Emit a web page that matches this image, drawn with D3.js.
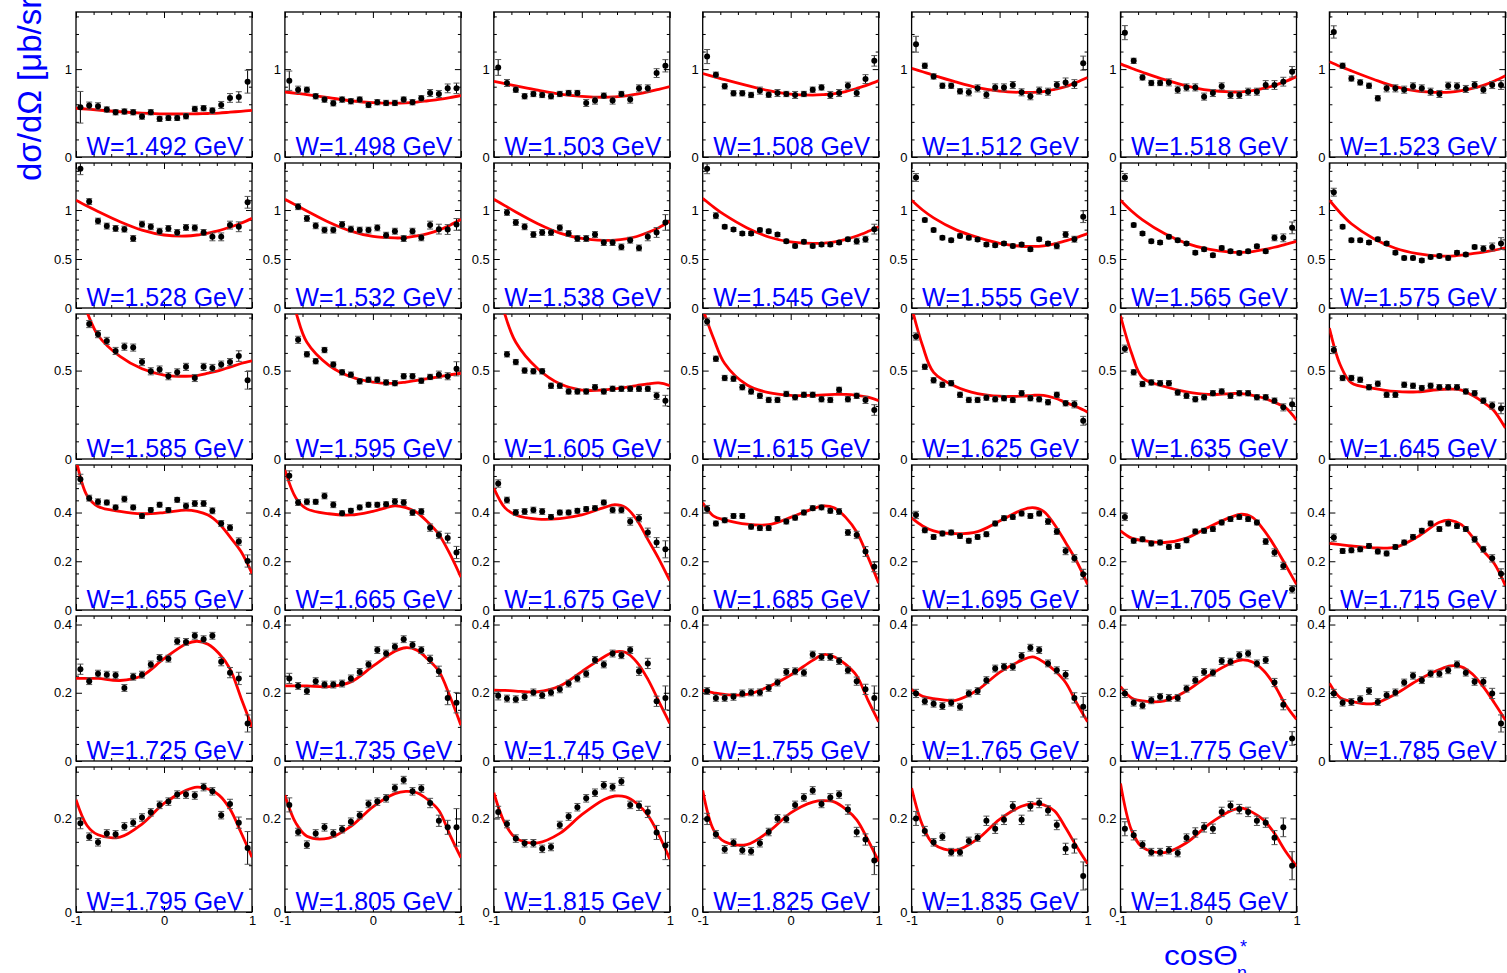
<!DOCTYPE html>
<html><head><meta charset="utf-8">
<script src="https://cdn.jsdelivr.net/npm/d3@7"></script>
<style>body{margin:0;background:#fff}</style>
</head><body>
<svg id="c" width="1507" height="973"></svg>
<script>
// ---------- DATA ----------
const energies = ["1.492","1.498","1.503","1.508","1.512","1.518","1.523",
 "1.528","1.532","1.538","1.545","1.555","1.565","1.575",
 "1.585","1.595","1.605","1.615","1.625","1.635","1.645",
 "1.655","1.665","1.675","1.685","1.695","1.705","1.715",
 "1.725","1.735","1.745","1.755","1.765","1.775","1.785",
 "1.795","1.805","1.815","1.825","1.835","1.845"];
const cosBins = [-0.95,-0.85,-0.75,-0.65,-0.55,-0.45,-0.35,-0.25,-0.15,-0.05,0.05,0.15,0.25,0.35,0.45,0.55,0.65,0.75,0.85,0.95];
const fitGrid = [-1,-0.875,-0.75,-0.5,-0.25,0,0.25,0.375,0.5,0.625,0.75,0.875,1];
const rowYMax = [1.65,1.48,0.82,0.595,0.425,0.31];
const rowYMajor = [[0,1],[0,0.5,1],[0,0.5],[0,0.2,0.4],[0,0.2,0.4],[0,0.2]];
const rowYMinorStep = [0.2,0.1,0.1,0.05,0.05,0.05];
const xTickLabels = [-1,0,1];

const crossSection = [
 [0.566,0.585,0.577,0.540,0.509,0.517,0.509,0.460,0.509,0.434,0.445,0.445,0.464,0.547,0.555,0.528,0.592,0.672,0.683,0.857],
 [0.868,0.766,0.766,0.691,0.653,0.611,0.653,0.634,0.653,0.592,0.623,0.615,0.615,0.653,0.623,0.668,0.728,0.717,0.781,0.781],
 [1.019,0.842,0.766,0.691,0.717,0.706,0.691,0.717,0.728,0.728,0.615,0.642,0.698,0.642,0.717,0.653,0.781,0.781,0.955,1.038],
 [1.143,0.936,0.804,0.725,0.725,0.706,0.755,0.709,0.728,0.717,0.706,0.717,0.766,0.792,0.706,0.728,0.811,0.728,0.887,1.094],
 [1.283,1.038,0.917,0.811,0.811,0.747,0.736,0.781,0.709,0.792,0.792,0.819,0.736,0.691,0.755,0.743,0.819,0.849,0.830,1.068],
 [1.415,1.094,0.906,0.842,0.842,0.849,0.766,0.792,0.792,0.687,0.728,0.804,0.706,0.706,0.743,0.743,0.819,0.819,0.857,0.970],
 [1.423,1.038,0.894,0.849,0.811,0.668,0.781,0.781,0.766,0.804,0.781,0.743,0.717,0.811,0.804,0.774,0.819,0.766,0.819,0.819],
 [1.421,1.086,0.887,0.836,0.812,0.805,0.709,0.856,0.829,0.784,0.812,0.771,0.822,0.818,0.771,0.726,0.726,0.846,0.829,1.079],
 [null,1.034,0.914,0.839,0.795,0.795,0.853,0.805,0.795,0.795,0.818,0.743,0.784,0.709,0.784,0.716,0.846,0.805,0.801,0.853],
 [null,0.976,0.873,0.829,0.750,0.771,0.771,0.818,0.760,0.709,0.709,0.750,0.668,0.668,0.623,0.692,0.613,0.726,0.771,0.873],
 [1.421,0.942,0.829,0.801,0.760,0.760,0.795,0.784,0.750,0.682,0.634,0.675,0.634,0.647,0.647,0.668,0.702,0.682,0.702,0.805],
 [1.332,0.897,0.795,0.716,0.692,0.736,0.716,0.699,0.647,0.640,0.658,0.634,0.647,0.599,0.702,0.658,0.634,0.750,0.702,0.932],
 [1.332,0.846,0.760,0.682,0.668,0.726,0.692,0.658,0.565,0.599,0.538,0.613,0.579,0.562,0.579,0.630,0.579,0.716,0.716,0.818],
 [1.182,0.829,0.692,0.692,0.668,0.702,0.658,0.565,0.510,0.510,0.486,0.521,0.531,0.510,0.565,0.545,0.623,0.606,0.623,0.658],
 [null,0.763,0.706,0.668,0.611,0.635,0.630,0.548,0.496,0.506,0.468,0.490,0.521,0.458,0.521,0.515,0.534,0.548,0.582,0.445],
 [null,0.674,0.592,0.553,0.616,0.534,0.490,0.477,0.439,0.448,0.448,0.433,0.429,0.468,0.468,0.443,0.464,0.477,0.468,0.510],
 [null,0.592,0.548,0.500,0.496,0.496,0.414,0.414,0.382,0.382,0.382,0.406,0.382,0.397,0.397,0.397,0.397,0.397,0.357,0.330],
 [0.777,0.567,0.458,0.454,0.406,0.382,0.357,0.334,0.334,0.368,0.349,0.363,0.363,0.338,0.334,0.391,0.338,0.357,0.334,0.277],
 [0.693,0.521,0.445,0.420,0.429,0.363,0.334,0.334,0.347,0.338,0.344,0.334,0.372,0.344,0.338,0.321,0.363,0.315,0.309,0.216],
 [0.624,0.490,0.424,0.433,0.429,0.429,0.376,0.357,0.338,0.349,0.372,0.382,0.357,0.372,0.372,0.349,0.349,0.330,0.292,0.309],
 [0.616,0.458,0.458,0.448,0.406,0.426,0.363,0.363,0.420,0.414,0.401,0.414,0.406,0.406,0.406,0.382,0.372,0.330,0.302,0.286],
 [0.537,0.459,0.444,0.441,0.421,0.455,0.421,0.386,0.410,0.432,0.410,0.452,0.427,0.437,0.437,0.407,0.355,0.338,0.281,0.201],
 [0.551,0.441,0.444,0.444,0.468,0.432,0.397,0.407,0.421,0.432,0.432,0.434,0.445,0.441,0.400,0.404,0.338,0.308,0.295,0.236],
 [0.519,0.451,0.400,0.404,0.410,0.404,0.382,0.400,0.400,0.407,0.414,0.418,0.441,0.410,0.410,0.363,0.377,0.318,0.277,0.249],
 [0.414,0.355,0.368,0.386,0.386,0.342,0.336,0.336,0.373,0.363,0.379,0.400,0.418,0.421,0.407,0.404,0.318,0.308,0.240,0.177],
 [0.390,0.327,0.300,0.314,0.318,0.304,0.284,0.300,0.311,0.355,0.377,0.382,0.396,0.386,0.396,0.363,0.322,0.242,0.212,0.147],
 [0.382,0.284,0.290,0.273,0.277,0.259,0.263,0.286,0.322,0.325,0.332,0.359,0.373,0.382,0.373,0.359,0.281,0.236,0.181,0.085],
 [0.297,0.242,0.245,0.249,0.263,0.240,0.232,0.259,0.277,0.300,0.325,0.355,0.332,0.355,0.345,0.332,0.290,0.249,0.212,0.149],
 [0.269,0.234,0.256,0.253,0.251,0.214,0.247,0.253,0.283,0.302,0.300,0.351,0.349,0.367,0.357,0.367,0.291,0.259,0.242,0.110],
 [0.242,0.220,0.205,0.234,0.224,0.224,0.227,0.242,0.261,0.283,0.325,0.315,0.335,0.357,0.340,0.325,0.298,0.263,0.185,0.171],
 [0.191,0.183,0.181,0.188,0.201,0.193,0.201,0.210,0.227,0.242,0.256,0.296,0.283,0.315,0.310,0.325,0.263,0.286,0.175,0.185],
 [0.205,0.185,0.185,0.188,0.198,0.201,0.201,0.214,0.230,0.261,0.263,0.259,0.312,0.305,0.305,0.293,0.266,0.234,0.210,0.185],
 [0.198,0.175,0.168,0.161,0.171,0.159,0.198,0.205,0.237,0.271,0.276,0.276,0.308,0.332,0.325,0.286,0.266,0.253,0.185,0.159],
 [0.198,0.171,0.163,0.178,0.188,0.185,0.185,0.212,0.237,0.261,0.259,0.293,0.291,0.310,0.315,0.286,0.296,0.230,0.165,0.066],
 [0.198,0.171,0.173,0.181,0.205,0.173,0.193,0.201,0.230,0.250,0.237,0.256,0.256,0.266,0.283,0.259,0.232,0.232,0.198,0.110],
 [0.190,0.161,0.149,0.168,0.166,0.183,0.191,0.202,0.213,0.229,0.236,0.251,0.251,0.249,0.267,0.258,0.207,0.231,0.191,0.137],
 [0.229,0.171,0.144,0.168,0.181,0.168,0.177,0.193,0.207,0.231,0.236,0.243,0.265,0.282,0.258,0.264,0.233,0.195,0.181,0.181],
 [0.214,0.188,0.157,0.147,0.147,0.135,0.139,0.186,0.204,0.224,0.243,0.255,0.271,0.267,0.279,0.229,0.227,0.214,0.170,0.142],
 [0.199,0.166,0.134,0.148,0.132,0.130,0.147,0.171,0.200,0.199,0.229,0.245,0.260,0.231,0.245,0.251,0.219,0.171,0.155,0.110],
 [0.200,0.173,0.149,0.161,0.128,0.128,0.152,0.159,0.195,0.178,0.197,0.226,0.197,0.226,0.233,0.217,0.186,0.135,0.141,0.077],
 [0.178,0.164,0.144,0.128,0.128,0.132,0.126,0.159,0.170,0.181,0.178,0.214,0.227,0.220,0.214,0.195,0.191,0.159,0.181,0.099]
];

const errors = [
 [0.18,0.04,0.04,0.03,0.03,0.03,0.03,0.03,0.03,0.03,0.03,0.03,0.03,0.03,0.03,0.03,0.04,0.05,0.06,0.13],
 [0.11,0.04,0.03,0.03,0.03,0.03,0.03,0.03,0.03,0.03,0.03,0.03,0.03,0.03,0.03,0.03,0.04,0.04,0.05,0.06],
 [0.09,0.04,0.03,0.03,0.03,0.03,0.03,0.03,0.03,0.03,0.04,0.04,0.03,0.04,0.03,0.04,0.04,0.04,0.05,0.07],
 [0.08,0.03,0.03,0.03,0.03,0.03,0.04,0.03,0.04,0.03,0.04,0.03,0.03,0.03,0.04,0.04,0.04,0.04,0.05,0.06],
 [0.09,0.03,0.03,0.03,0.03,0.03,0.04,0.04,0.04,0.04,0.04,0.04,0.04,0.04,0.04,0.04,0.04,0.05,0.05,0.08],
 [0.08,0.03,0.03,0.03,0.03,0.04,0.04,0.04,0.04,0.04,0.04,0.04,0.04,0.04,0.04,0.04,0.05,0.05,0.05,0.06],
 [0.07,0.03,0.03,0.03,0.03,0.03,0.04,0.04,0.04,0.04,0.04,0.04,0.04,0.04,0.04,0.04,0.04,0.04,0.04,0.05],
 [0.06,0.03,0.03,0.03,0.03,0.03,0.03,0.03,0.03,0.03,0.03,0.03,0.03,0.03,0.03,0.04,0.04,0.04,0.05,0.06],
 [0,0.03,0.03,0.03,0.03,0.03,0.03,0.03,0.03,0.03,0.03,0.03,0.03,0.03,0.03,0.03,0.04,0.05,0.05,0.06],
 [0,0.03,0.03,0.03,0.03,0.03,0.03,0.03,0.03,0.03,0.03,0.03,0.03,0.03,0.03,0.03,0.03,0.04,0.05,0.08],
 [0.05,0.03,0.02,0.02,0.02,0.02,0.02,0.02,0.02,0.02,0.02,0.02,0.02,0.02,0.02,0.02,0.02,0.03,0.03,0.05],
 [0.04,0.02,0.02,0.02,0.02,0.02,0.02,0.02,0.02,0.02,0.02,0.02,0.02,0.02,0.02,0.02,0.03,0.03,0.03,0.06],
 [0.04,0.02,0.02,0.02,0.02,0.02,0.02,0.02,0.02,0.02,0.02,0.02,0.02,0.02,0.02,0.02,0.02,0.03,0.04,0.06],
 [0.04,0.02,0.02,0.02,0.02,0.02,0.02,0.02,0.02,0.02,0.02,0.02,0.02,0.02,0.02,0.02,0.02,0.03,0.04,0.06],
 [0,0.02,0.02,0.02,0.02,0.02,0.02,0.02,0.02,0.02,0.02,0.02,0.02,0.02,0.02,0.02,0.02,0.02,0.03,0.05],
 [0,0.02,0.015,0.015,0.015,0.015,0.015,0.015,0.015,0.015,0.015,0.015,0.015,0.015,0.015,0.015,0.015,0.02,0.02,0.04],
 [0,0.015,0.015,0.015,0.015,0.015,0.015,0.015,0.015,0.015,0.015,0.015,0.015,0.015,0.015,0.015,0.015,0.015,0.02,0.03],
 [0.02,0.015,0.015,0.015,0.015,0.015,0.015,0.015,0.015,0.015,0.015,0.015,0.015,0.015,0.015,0.015,0.015,0.015,0.02,0.03],
 [0.02,0.015,0.015,0.015,0.015,0.015,0.015,0.015,0.015,0.015,0.015,0.015,0.015,0.015,0.015,0.015,0.015,0.015,0.02,0.025],
 [0.02,0.015,0.015,0.015,0.015,0.015,0.015,0.015,0.015,0.015,0.015,0.015,0.015,0.015,0.015,0.015,0.015,0.015,0.02,0.035],
 [0.02,0.015,0.015,0.015,0.015,0.015,0.015,0.015,0.015,0.015,0.015,0.015,0.015,0.015,0.015,0.015,0.015,0.015,0.02,0.03],
 [0.02,0.012,0.012,0.01,0.01,0.012,0.01,0.01,0.01,0.01,0.01,0.01,0.012,0.012,0.012,0.012,0.012,0.012,0.015,0.025],
 [0.02,0.012,0.012,0.01,0.012,0.012,0.01,0.01,0.01,0.01,0.01,0.01,0.012,0.012,0.012,0.012,0.015,0.015,0.02,0.025],
 [0.015,0.012,0.012,0.012,0.012,0.012,0.01,0.01,0.01,0.01,0.01,0.01,0.01,0.012,0.012,0.015,0.015,0.018,0.02,0.035],
 [0.015,0.01,0.01,0.01,0.01,0.01,0.01,0.01,0.01,0.01,0.01,0.01,0.01,0.01,0.01,0.012,0.012,0.015,0.02,0.02],
 [0.015,0.01,0.01,0.01,0.01,0.01,0.01,0.01,0.01,0.01,0.01,0.01,0.01,0.01,0.01,0.012,0.012,0.015,0.015,0.02],
 [0.015,0.01,0.01,0.01,0.01,0.01,0.01,0.01,0.01,0.01,0.01,0.01,0.01,0.01,0.01,0.01,0.012,0.015,0.015,0.015],
 [0.015,0.01,0.01,0.01,0.01,0.01,0.01,0.01,0.01,0.01,0.01,0.01,0.01,0.01,0.01,0.01,0.012,0.012,0.015,0.02],
 [0.015,0.01,0.01,0.01,0.01,0.01,0.01,0.01,0.01,0.01,0.01,0.01,0.01,0.01,0.01,0.01,0.012,0.015,0.018,0.025],
 [0.015,0.01,0.01,0.01,0.01,0.01,0.01,0.01,0.01,0.01,0.01,0.01,0.01,0.01,0.01,0.01,0.012,0.015,0.02,0.03],
 [0.012,0.01,0.01,0.01,0.01,0.01,0.01,0.01,0.01,0.01,0.01,0.01,0.01,0.01,0.01,0.01,0.012,0.015,0.015,0.035],
 [0.01,0.01,0.01,0.01,0.01,0.01,0.01,0.01,0.01,0.01,0.01,0.01,0.01,0.01,0.01,0.01,0.01,0.012,0.015,0.035],
 [0.012,0.01,0.01,0.01,0.01,0.01,0.01,0.01,0.01,0.01,0.01,0.01,0.01,0.01,0.01,0.01,0.01,0.012,0.015,0.03],
 [0.012,0.01,0.01,0.01,0.01,0.01,0.01,0.01,0.01,0.01,0.01,0.01,0.01,0.01,0.01,0.01,0.01,0.012,0.015,0.02],
 [0.012,0.01,0.01,0.01,0.01,0.01,0.01,0.01,0.01,0.01,0.01,0.01,0.01,0.01,0.01,0.01,0.01,0.012,0.015,0.025],
 [0.012,0.008,0.008,0.008,0.008,0.008,0.008,0.008,0.008,0.008,0.008,0.008,0.008,0.008,0.008,0.008,0.008,0.01,0.012,0.035],
 [0.015,0.008,0.008,0.008,0.008,0.008,0.008,0.008,0.008,0.008,0.008,0.008,0.008,0.008,0.008,0.008,0.01,0.012,0.015,0.04],
 [0.012,0.008,0.008,0.008,0.008,0.008,0.008,0.008,0.008,0.008,0.008,0.008,0.008,0.008,0.008,0.008,0.01,0.012,0.015,0.03],
 [0.012,0.008,0.008,0.008,0.008,0.008,0.008,0.008,0.008,0.008,0.008,0.008,0.008,0.008,0.008,0.008,0.01,0.01,0.012,0.03],
 [0.015,0.01,0.008,0.008,0.008,0.008,0.008,0.008,0.01,0.01,0.01,0.01,0.01,0.01,0.01,0.01,0.01,0.012,0.015,0.03],
 [0.015,0.01,0.008,0.008,0.008,0.008,0.008,0.008,0.01,0.01,0.01,0.01,0.01,0.01,0.01,0.01,0.01,0.015,0.02,0.03]
];

const fitCurves = [
 [0.555,0.545,0.535,0.515,0.50,0.49,0.49,0.492,0.495,0.50,0.51,0.52,0.53],
 [0.74,0.725,0.71,0.675,0.64,0.618,0.612,0.615,0.625,0.64,0.655,0.675,0.70],
 [0.86,0.835,0.81,0.76,0.715,0.69,0.68,0.685,0.695,0.715,0.74,0.77,0.80],
 [0.95,0.915,0.88,0.815,0.755,0.715,0.705,0.71,0.72,0.745,0.78,0.82,0.87],
 [1.01,0.97,0.93,0.855,0.79,0.75,0.735,0.735,0.745,0.77,0.80,0.85,0.905],
 [1.06,1.01,0.965,0.88,0.81,0.76,0.74,0.742,0.755,0.78,0.815,0.86,0.915],
 [1.085,1.03,0.98,0.885,0.80,0.75,0.735,0.738,0.755,0.78,0.815,0.865,0.925],
 [1.10,1.04,0.985,0.88,0.795,0.745,0.735,0.745,0.765,0.79,0.825,0.865,0.915],
 [1.11,1.05,0.99,0.875,0.785,0.73,0.715,0.718,0.735,0.76,0.795,0.845,0.905],
 [1.11,1.045,0.98,0.86,0.765,0.71,0.69,0.692,0.705,0.73,0.77,0.82,0.885],
 [1.12,1.03,0.95,0.82,0.725,0.675,0.66,0.663,0.675,0.70,0.735,0.78,0.83],
 [1.10,1.0,0.92,0.80,0.72,0.66,0.63,0.628,0.635,0.655,0.685,0.72,0.76],
 [1.10,0.99,0.90,0.76,0.66,0.60,0.57,0.568,0.575,0.595,0.62,0.65,0.68],
 [1.10,0.97,0.86,0.71,0.61,0.555,0.53,0.53,0.54,0.555,0.57,0.59,0.615],
 [0.98,0.83,0.70,0.58,0.51,0.475,0.468,0.472,0.485,0.50,0.52,0.54,0.555],
 [1.05,0.83,0.66,0.53,0.465,0.435,0.428,0.435,0.445,0.455,0.465,0.476,0.485],
 [1.1,0.82,0.66,0.51,0.425,0.39,0.39,0.397,0.405,0.415,0.425,0.43,0.415],
 [0.85,0.68,0.54,0.42,0.375,0.36,0.36,0.363,0.365,0.365,0.36,0.35,0.33],
 [0.86,0.64,0.49,0.41,0.37,0.355,0.355,0.36,0.36,0.345,0.32,0.295,0.265],
 [0.81,0.60,0.46,0.41,0.38,0.365,0.37,0.37,0.36,0.345,0.32,0.29,0.22],
 [0.74,0.53,0.43,0.40,0.382,0.38,0.393,0.395,0.39,0.36,0.32,0.27,0.175],
 [0.62,0.47,0.425,0.405,0.395,0.40,0.41,0.405,0.39,0.355,0.30,0.24,0.15],
 [0.575,0.46,0.415,0.395,0.39,0.405,0.427,0.42,0.40,0.36,0.31,0.23,0.135],
 [0.50,0.42,0.39,0.373,0.375,0.39,0.42,0.432,0.42,0.37,0.29,0.21,0.12],
 [0.44,0.385,0.37,0.352,0.35,0.38,0.415,0.427,0.418,0.38,0.32,0.22,0.11],
 [0.378,0.345,0.325,0.313,0.322,0.365,0.41,0.42,0.405,0.35,0.277,0.20,0.105],
 [0.325,0.295,0.285,0.277,0.295,0.34,0.38,0.393,0.38,0.33,0.263,0.185,0.105],
 [0.273,0.268,0.263,0.255,0.258,0.30,0.36,0.368,0.35,0.30,0.242,0.19,0.10],
 [0.242,0.242,0.242,0.236,0.25,0.30,0.343,0.351,0.342,0.315,0.27,0.185,0.10],
 [0.22,0.22,0.22,0.218,0.232,0.278,0.322,0.332,0.325,0.298,0.263,0.19,0.105],
 [0.208,0.207,0.205,0.203,0.22,0.262,0.305,0.32,0.318,0.29,0.24,0.175,0.11],
 [0.207,0.20,0.195,0.195,0.218,0.252,0.295,0.312,0.305,0.283,0.25,0.18,0.115],
 [0.21,0.19,0.183,0.178,0.208,0.26,0.295,0.305,0.29,0.265,0.23,0.17,0.115],
 [0.218,0.185,0.176,0.176,0.205,0.25,0.286,0.296,0.29,0.265,0.222,0.165,0.122],
 [0.228,0.185,0.175,0.168,0.196,0.236,0.268,0.279,0.276,0.255,0.217,0.17,0.12],
 [0.24,0.185,0.165,0.16,0.188,0.232,0.26,0.267,0.263,0.25,0.22,0.17,0.117],
 [0.25,0.19,0.162,0.158,0.183,0.225,0.253,0.258,0.255,0.24,0.217,0.165,0.116],
 [0.255,0.19,0.158,0.148,0.168,0.208,0.24,0.248,0.246,0.232,0.207,0.165,0.113],
 [0.26,0.175,0.15,0.144,0.172,0.212,0.235,0.238,0.235,0.22,0.197,0.155,0.108],
 [0.265,0.185,0.145,0.132,0.156,0.198,0.226,0.231,0.229,0.216,0.18,0.14,0.103],
 [0.275,0.175,0.138,0.127,0.148,0.187,0.216,0.222,0.213,0.197,0.168,0.13,0.098]
];

// ---------- LAYOUT ----------
const W = 1507, H = 973;
const nCols = 7;
const colCenter0 = 164, colPitch = 208.9, panelW = 176;
const rowTop0 = 12, rowPitch = 151, panelH = 145;
const FONT = "'Liberation Sans', Arial, Helvetica, sans-serif";
const BLUE = "#0000ff";

const svg = d3.select("#c");
svg.append("rect").attr("width", W).attr("height", H).attr("fill", "#fff");
const defs = svg.append("defs");

energies.forEach((en, i) => {
  const row = Math.floor(i / nCols), col = i % nCols;
  const left = colCenter0 + colPitch * col - panelW / 2;
  const top = rowTop0 + rowPitch * row;
  const x = d3.scaleLinear().domain([-1, 1]).range([left, left + panelW]);
  const y = d3.scaleLinear().domain([0, rowYMax[row]]).range([top + panelH, top]);
  const g = svg.append("g");

  const clipId = "clip" + i;
  defs.append("clipPath").attr("id", clipId).append("rect")
    .attr("x", left).attr("y", top).attr("width", panelW).attr("height", panelH);

  const ymax = rowYMax[row];
  const minors = d3.range(0, ymax + 1e-9, rowYMinorStep[row]).filter(v => !rowYMajor[row].some(m => Math.abs(m - v) < 1e-6));
  const xMinor = d3.range(-1, 1.0001, 0.2).filter(v => Math.abs(v) > 1e-6 && Math.abs(Math.abs(v) - 1) > 1e-6);
  const xMajor = xTickLabels;

  const axL = g.append("g").attr("transform", `translate(${left},0)`)
    .call(d3.axisLeft(y).tickValues(rowYMajor[row]).tickSize(-6).tickPadding(4).tickFormat(d => String(d)));
  const axLm = g.append("g").attr("transform", `translate(${left},0)`)
    .call(d3.axisLeft(y).tickValues(minors).tickSize(-3).tickFormat(""));
  const axR = g.append("g").attr("transform", `translate(${left + panelW},0)`)
    .call(d3.axisRight(y).tickValues(rowYMajor[row]).tickSize(-6).tickFormat(""));
  const axRm = g.append("g").attr("transform", `translate(${left + panelW},0)`)
    .call(d3.axisRight(y).tickValues(minors).tickSize(-3).tickFormat(""));
  const isBottomRow = row === 5;
  const axB = g.append("g").attr("transform", `translate(0,${top + panelH})`)
    .call(d3.axisBottom(x).tickValues(xMajor).tickSize(-6).tickPadding(4)
      .tickFormat(isBottomRow ? (d => String(d)) : ""));
  const axBm = g.append("g").attr("transform", `translate(0,${top + panelH})`)
    .call(d3.axisBottom(x).tickValues(xMinor).tickSize(-3).tickFormat(""));
  const axT = g.append("g").attr("transform", `translate(0,${top})`)
    .call(d3.axisTop(x).tickValues(xMajor).tickSize(-6).tickFormat(""));
  const axTm = g.append("g").attr("transform", `translate(0,${top})`)
    .call(d3.axisTop(x).tickValues(xMinor).tickSize(-3).tickFormat(""));
  [axL, axLm, axR, axRm, axB, axBm, axT, axTm].forEach(a => {
    a.select(".domain").remove();
    a.selectAll("line").attr("stroke", "#000").attr("stroke-width", 1);
    a.selectAll("text").attr("font-family", FONT).attr("font-size", 13).attr("fill", "#000");
  });

  g.append("rect").attr("x", left).attr("y", top).attr("width", panelW).attr("height", panelH)
    .attr("fill", "none").attr("stroke", "#000").attr("stroke-width", 1.3);

  const inner = g.append("g").attr("clip-path", `url(#${clipId})`);

  const fit = fitCurves[i].map((v, k) => [fitGrid[k], v]);
  inner.append("path").datum(fit)
    .attr("fill", "none").attr("stroke", "#ff0000").attr("stroke-width", 2.8)
    .attr("d", d3.line().x(d => x(d[0])).y(d => y(d[1])).curve(d3.curveCatmullRom.alpha(0.5)));

  const pts = crossSection[i].map((v, k) => ({c: cosBins[k], v, e: errors[i][k]})).filter(d => d.v !== null);
  const eb = inner.append("g");
  pts.forEach(d => {
    const y1 = y(d.v - d.e), y2 = y(d.v + d.e), xc = x(d.c);
    eb.append("line").attr("x1", xc).attr("x2", xc).attr("y1", y1).attr("y2", y2)
      .attr("stroke", "#000").attr("stroke-width", 1);
    [y1, y2].forEach(yy => eb.append("line").attr("x1", xc - 3).attr("x2", xc + 3)
      .attr("y1", yy).attr("y2", yy).attr("stroke", "#555").attr("stroke-width", 1));
  });
  inner.append("g").selectAll("circle").data(pts).join("circle")
    .attr("cx", d => x(d.c)).attr("cy", d => y(d.v)).attr("r", 3).attr("fill", "#000");

  g.append("text").attr("x", left + panelW / 2 + 1).attr("y", top + panelH - 2)
    .attr("text-anchor", "middle").attr("font-family", FONT).attr("font-size", 25)
    .attr("fill", BLUE).attr("textLength", 157).attr("lengthAdjust", "spacingAndGlyphs")
    .text(`W=${en} GeV`);
});

// axis titles
svg.append("text").attr("transform", "translate(41,181) rotate(-90)")
  .attr("font-family", FONT).attr("font-size", 33).attr("fill", BLUE)
  .text("dσ/dΩ [μb/sr]");

const xt = svg.append("g");
xt.append("text").attr("x", 1164).attr("y", 965).attr("font-family", FONT).attr("font-size", 27)
  .attr("fill", BLUE).attr("textLength", 74).attr("lengthAdjust", "spacingAndGlyphs").text("cosΘ");
xt.append("text").attr("x", 1240).attr("y", 953).attr("font-family", FONT).attr("font-size", 18)
  .attr("fill", BLUE).text("*");
xt.append("text").attr("x", 1237).attr("y", 979).attr("font-family", FONT).attr("font-size", 18)
  .attr("fill", BLUE).text("η");
</script>
</body></html>
